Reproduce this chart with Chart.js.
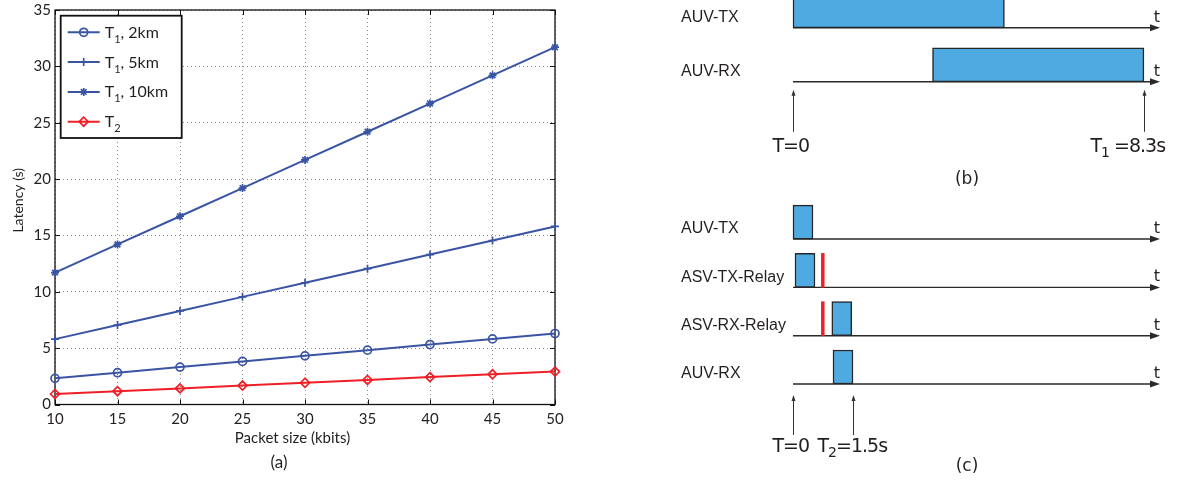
<!DOCTYPE html>
<html><head><meta charset="utf-8">
<script src="https://cdn.jsdelivr.net/npm/chart.js@4/dist/chart.umd.min.js"></script>
<style>
html,body{margin:0;padding:0;background:#fff;width:1178px;height:480px;overflow:hidden}
canvas{position:absolute;display:block}
#ca{left:0;top:0}
#cb{left:670px;top:0}
#cc{left:670px;top:195px}
</style></head><body>
<canvas id="ca" width="620" height="480"></canvas>
<canvas id="cb" width="508" height="200"></canvas>
<canvas id="cc" width="508" height="285"></canvas>
<script>
// ---------------- DATA ----------------
const packetSizes    = [10, 15, 20, 25, 30, 35, 40, 45, 50];
const latencyT1_2km  = [2.32, 2.82, 3.32, 3.82, 4.32, 4.82, 5.32, 5.82, 6.3];
const latencyT1_5km  = [5.8, 7.05, 8.3, 9.55, 10.8, 12.05, 13.3, 14.55, 15.8];
const latencyT1_10km = [11.7, 14.2, 16.7, 19.2, 21.7, 24.2, 26.7, 29.2, 31.7];
const latencyT2      = [0.93, 1.18, 1.43, 1.68, 1.93, 2.18, 2.43, 2.68, 2.92];
const seriesNames    = [['T','1',', 2km'], ['T','1',', 5km'], ['T','1',', 10km'], ['T','2','']];
const xLabelA = 'Packet size (kbits)';
const yLabelA = 'Latency (s)';

const rowsB   = ['AUV-TX', 'AUV-RX'];
const startB  = [0, 3.3];
const endB    = [5, 8.3];
const markersB      = [0, 8.3];
const markerLabelsB = [['T','','=0'], ['T','1',' =8.3s']];

const rowsC   = ['AUV-TX', 'ASV-TX-Relay', 'ASV-RX-Relay', 'AUV-RX'];
const startC  = [0, 0.05, 0.97, 1.0];
const endC    = [0.5, 0.55, 1.47, 1.5];
const relayRowsC  = [1, 2];
const relayStartC = [0.71, 0.71];
const relayEndC   = [0.78, 0.78];
const markersC      = [0, 1.5];
const markerLabelsC = [['T','','=0'], ['T','2','=1.5s']];

// ---------------- STYLE ----------------
const BLUE = '#3a54a4', RED = '#ee1f26', INK = '#231f20';
const BAR_BLUE = '#4faae2';

function drawSub(ctx, x, y, parts, big, small, drop) {
  ctx.font = big; ctx.fillText(parts[0], x, y); x += ctx.measureText(parts[0]).width;
  if (parts[1]) { ctx.font = small; ctx.fillText(parts[1], x, y + drop); x += ctx.measureText(parts[1]).width; }
  if (parts[2]) { ctx.font = big; ctx.fillText(parts[2], x, y); }
}

// ---------------- CHART (a) ----------------
const frameA = {
  id: 'frameA',
  beforeDatasetsDraw(chart) {
    const {ctx, chartArea: a, scales: {x, y}} = chart;
    ctx.save();
    ctx.strokeStyle = '#111'; ctx.lineWidth = 1;
    ctx.beginPath();
    x.ticks.forEach(t => {
      const px = Math.round(x.getPixelForValue(t.value)) + 0.5;
      ctx.moveTo(px, a.bottom); ctx.lineTo(px, a.bottom - 5);
      ctx.moveTo(px, a.top); ctx.lineTo(px, a.top + 5);
    });
    y.ticks.forEach(t => {
      const py = Math.round(y.getPixelForValue(t.value)) + 0.5;
      ctx.moveTo(a.left, py); ctx.lineTo(a.left + 5, py);
      ctx.moveTo(a.right, py); ctx.lineTo(a.right - 5, py);
    });
    ctx.stroke();
    ctx.lineWidth = 1.3;
    ctx.strokeRect(a.left, a.top, a.right - a.left, a.bottom - a.top);
    ctx.restore();
  }
};
const legendA = {
  id: 'legendA',
  afterDraw(chart) {
    const {ctx, chartArea: a} = chart;
    const x0 = a.left + 5.7, y0 = a.top + 5.7, w = 121, h = 122.3;
    ctx.save();
    ctx.fillStyle = '#fff'; ctx.fillRect(x0, y0, w, h);
    ctx.strokeStyle = '#111'; ctx.lineWidth = 1.8; ctx.strokeRect(x0, y0, w, h);
    chart.data.datasets.forEach((ds, i) => {
      const ry = y0 + 16.6 + i * 29.8;
      ctx.strokeStyle = ds.borderColor; ctx.lineWidth = 2;
      ctx.beginPath(); ctx.moveTo(x0 + 7, ry); ctx.lineTo(x0 + 39, ry); ctx.stroke();
      ctx.fillStyle = 'rgba(0,0,0,0)'; ctx.lineWidth = ds.pointBorderWidth;
      Chart.helpers.drawPoint(ctx, {pointStyle: ds.pointStyle, radius: ds.pointRadius, borderWidth: ds.pointBorderWidth, rotation: 0}, x0 + 23, ry);
      ctx.fillStyle = INK; ctx.textBaseline = 'alphabetic'; ctx.textAlign = 'left';
      drawSub(ctx, x0 + 44, ry + 5.5, seriesNames[i], '16px Lato', '11px Lato', 5);
    });
    ctx.restore();
  }
};
const captionA = {
  id: 'captionA',
  afterDraw(chart) {
    const {ctx, chartArea: a} = chart;
    ctx.save();
    ctx.fillStyle = INK; ctx.textAlign = 'center'; ctx.textBaseline = 'middle';
    const cx = (a.left + a.right) / 2;
    ctx.font = '15px Lato';
    ctx.fillText(xLabelA, cx - 12.5, 438);
    ctx.font = '17px Lato';
    ctx.fillText('(a)', cx - 26, 463);
    ctx.translate(18, (a.top + a.bottom) / 2 - 7);
    ctx.rotate(-Math.PI / 2);
    ctx.font = '14px Lato';
    ctx.fillText(yLabelA, 0, 0);
    ctx.restore();
  }
};

const seriesA = [
  {values: latencyT1_2km,  color: BLUE, style: 'circle',  r: 4},
  {values: latencyT1_5km,  color: BLUE, style: 'cross',   r: 4},
  {values: latencyT1_10km, color: BLUE, style: 'star',    r: 4},
  {values: latencyT2,      color: RED,  style: 'rectRot', r: 4.5}
];
const tickFontA = {family: 'Lato', size: 15};

new Chart(document.getElementById('ca'), {
  type: 'line',
  data: {
    datasets: seriesA.map((s, k) => ({
      label: seriesNames[k].join(''),
      data: packetSizes.map((x, i) => ({x, y: s.values[i]})),
      borderColor: s.color, backgroundColor: s.color, borderWidth: 2,
      pointStyle: s.style, pointRadius: s.r, pointBorderWidth: 1.7,
      pointBorderColor: s.color, pointBackgroundColor: 'rgba(0,0,0,0)',
      tension: 0, clip: false
    }))
  },
  options: {
    responsive: false, animation: false, devicePixelRatio: 1,
    layout: {padding: {left: 0, right: 65, top: 10, bottom: 0}},
    plugins: {legend: {display: false}, tooltip: {enabled: false}},
    scales: {
      x: {
        type: 'linear', min: 10, max: 50,
        ticks: {stepSize: 5, padding: 6, color: INK, font: tickFontA, maxRotation: 0},
        grid: {drawTicks: false, color: '#8c8c8c', lineWidth: 1},
        border: {display: false, dash: [1, 3]},
        afterFit(s) { s.height = 75.5; s.paddingLeft = 0; s.paddingRight = 0; }
      },
      y: {
        type: 'linear', min: 0, max: 35,
        ticks: {stepSize: 5, padding: 4, color: INK, font: tickFontA},
        grid: {drawTicks: false, color: '#8c8c8c', lineWidth: 1},
        border: {display: false, dash: [1, 3]},
        afterFit(s) { s.width = 55; s.paddingTop = 0; s.paddingBottom = 0; }
      }
    }
  },
  plugins: [frameA, legendA, captionA]
});

// ---------------- CHARTS (b) and (c) ----------------
const timingPlugin = {
  id: 'timing',
  beforeDatasetsDraw(chart, args, o) {
    const {ctx, chartArea: a, scales: {x, y}} = chart;
    const half = o.bar / 2;
    ctx.save();
    const x0 = x.getPixelForValue(0), x1 = a.right;
    o.rows.forEach((r, i) => {
      const by = y.getPixelForValue(i) + half;
      ctx.strokeStyle = '#2a2a2a'; ctx.fillStyle = '#2a2a2a'; ctx.lineWidth = 1.4;
      ctx.beginPath(); ctx.moveTo(x0, by); ctx.lineTo(x1 - 6, by); ctx.stroke();
      ctx.beginPath(); ctx.moveTo(x1, by); ctx.lineTo(x1 - 10, by - 3.5); ctx.lineTo(x1 - 10, by + 3.5); ctx.closePath(); ctx.fill();
      ctx.fillStyle = INK; ctx.font = '16px "DejaVu Sans"'; ctx.textAlign = 'center'; ctx.textBaseline = 'alphabetic';
      ctx.fillText('t', x1 - 3, by - 6);
    });
    const lastBase = y.getPixelForValue(o.rows.length - 1) + half;
    o.markers.forEach((t, k) => {
      const px = Math.round(x.getPixelForValue(t)) + 0.5;
      const tip = lastBase + o.tipGap, tail = tip + o.arrowLen;
      ctx.lineWidth = 1; ctx.strokeStyle = '#333'; ctx.fillStyle = '#333';
      ctx.beginPath(); ctx.moveTo(px, tail); ctx.lineTo(px, tip + 3); ctx.stroke();
      ctx.beginPath(); ctx.moveTo(px, tip); ctx.lineTo(px - 2, tip + 6); ctx.lineTo(px + 2, tip + 6); ctx.closePath(); ctx.fill();
      ctx.fillStyle = INK; ctx.textAlign = 'left'; ctx.textBaseline = 'alphabetic';
      if ('letterSpacing' in ctx) ctx.letterSpacing = '-1px';
      drawSub(ctx, px + o.labelDx[k], tail + o.textGap, o.labels[k], '19px "DejaVu Sans"', '14px "DejaVu Sans"', 5);
      if ('letterSpacing' in ctx) ctx.letterSpacing = '0px';
    });
    ctx.fillStyle = INK; ctx.textAlign = 'center'; ctx.textBaseline = 'middle';
    ctx.font = '17px "DejaVu Sans"';
    ctx.fillText(o.caption, (a.left + a.right) / 2 - 9.5, o.captionY);
    ctx.restore();
  }
};

function timingChart(id, rows, starts, ends, redRows, redStarts, redEnds, xMax, yMin, yMax, padBottom, extra) {
  const datasets = [{
    data: rows.map((r, i) => ({y: i, x: [starts[i], ends[i]]})),
    backgroundColor: BAR_BLUE, borderColor: '#262626', borderWidth: 1.5,
    borderSkipped: false, barThickness: 34, grouped: false, clip: false
  }];
  if (redRows.length) datasets.push({
    data: redRows.map((r, i) => ({y: r, x: [redStarts[i], redEnds[i]]})),
    backgroundColor: RED, borderWidth: 0, barThickness: 34, grouped: false, clip: false
  });
  return new Chart(document.getElementById(id), {
    type: 'bar',
    data: {datasets},
    options: {
      indexAxis: 'y', responsive: false, animation: false, devicePixelRatio: 1,
      layout: {padding: {left: 11, right: 18, top: 0, bottom: padBottom}},
      plugins: {
        legend: {display: false}, tooltip: {enabled: false},
        timing: Object.assign({rows, bar: 34}, extra)
      },
      scales: {
        x: {type: 'linear', min: 0, max: xMax, display: false, offset: false},
        y: {
          type: 'linear', reverse: true, min: yMin, max: yMax, offset: false,
          grid: {display: false}, border: {display: false},
          afterBuildTicks(s) { s.ticks = rows.map((r, i) => ({value: i})); },
          ticks: {
            autoSkip: false, crossAlign: 'far', padding: 0, labelOffset: 7,
            color: INK, font: {family: '"Liberation Sans"', size: 16},
            callback: v => rows[v] ?? ''
          },
          afterFit(s) { s.width = 112; s.paddingTop = 0; s.paddingBottom = 0; }
        }
      }
    },
    plugins: [timingPlugin]
  });
}

timingChart('cb', rowsB, startB, endB, [], [], [], 8.68, -0.2, 1.8, 92, {
  markers: markersB, labels: markerLabelsB, labelDx: [-21, -54],
  tipGap: 8, arrowLen: 42, textGap: 20, caption: '(b)', captionY: 180
});
timingChart('cc', rowsC, startC, endC, relayRowsC, relayStartC, relayEndC, 9.175, -0.56, 3.6, 84, {
  markers: markersC, labels: markerLabelsC, labelDx: [-21, -36],
  tipGap: 11, arrowLen: 40, textGap: 17, caption: '(c)', captionY: 272
});
</script>
</body></html>
